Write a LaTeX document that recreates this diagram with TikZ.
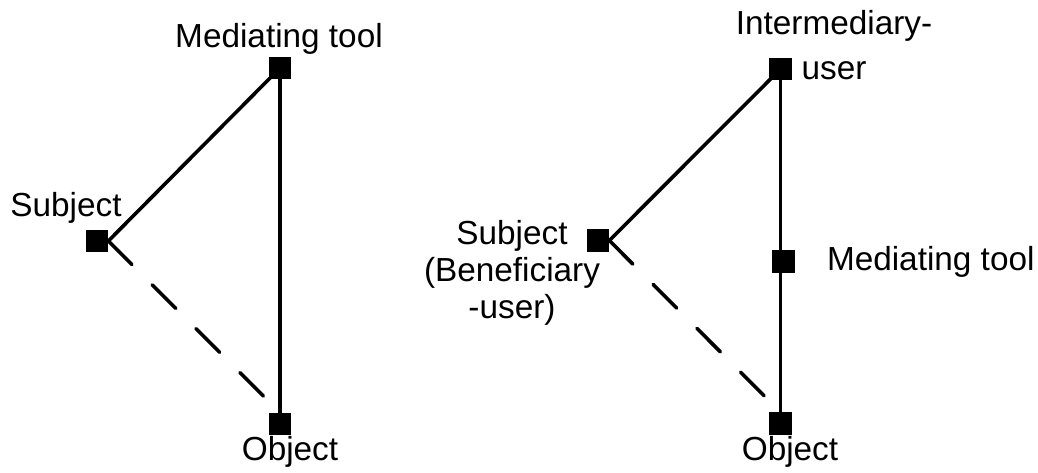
\documentclass[tikz,border=0pt]{standalone}
\usepackage{fontspec}
\setmainfont{Liberation Sans}
\usetikzlibrary{backgrounds}
\begin{document}
\begin{tikzpicture}[x=0.75pt,y=-0.75pt,
  sq/.style={fill=black,draw=none,minimum size=17pt,inner sep=0pt,outer sep=0pt},
  lbl/.style={inner sep=0pt,outer sep=0pt,font=\fontsize{25}{30}\selectfont,text=black},
  solidline/.style={line width=2.7pt},
  dashline/.style={line width=2.7pt,line cap=round,dash pattern=on 25pt off 21.5pt}]
\useasboundingbox (0,0) rectangle (1038,472);
% left triangle
\node[sq] (lmt) at (280,68) {};
\node[sq] (lsub) at (97,241) {};
\node[sq] (lobj) at (280,424) {};
\node[lbl,anchor=base] (lmtl) at (279,47) {Mediating tool};
\node[lbl,anchor=base] (lsubl) at (66,216) {Subject};
\node[lbl,anchor=base] (lobjl) at (290,460) {Object};
% right triangle
\node[sq] (riu) at (780.5,69) {};
\node[sq] (rsub) at (598,240.5) {};
\node[sq] (rmt) at (783.5,261.5) {};
\node[sq] (robj) at (780.5,423.5) {};
\node[lbl,anchor=base,align=center,font=\fontsize{25}{33.75}\selectfont] (riul) at (834,79) {Intermediary-\\user};
\node[lbl,anchor=base,align=center,font=\fontsize{25}{27.75}\selectfont] (rsubl) at (512,318) {Subject\\(Beneficiary\\-user)};
\node[lbl,anchor=base west] (rmtl) at (827,270) {Mediating tool};
\node[lbl,anchor=base] (robjl) at (790,460) {Object};
\begin{scope}[on background layer]
\draw[solidline] (lmt.center) -- (lsub.east);
\draw[solidline] (lmt.center) -- (lobj.center);
\draw[dashline] (lsub.east) -- (lobj.north);
\draw[solidline] (riu.center) -- (rsub.east);
\draw[solidline] (riu.center) -- (robj.center);
\draw[dashline] (rsub.east) -- (robj.north);
\end{scope}
\end{tikzpicture}
\end{document}
